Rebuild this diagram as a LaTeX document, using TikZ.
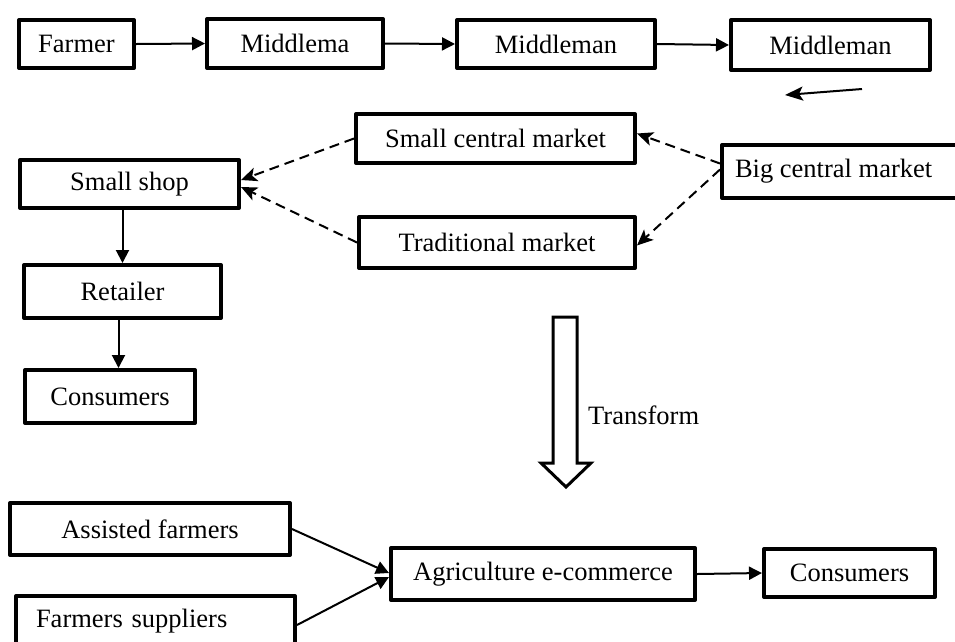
\documentclass[tikz,border=0pt]{standalone}
\usepackage{fontspec}
\setmainfont{Liberation Serif}
\usetikzlibrary{arrows.meta}
\begin{document}
\begin{tikzpicture}[x=1pt,y=-1pt,
  font=\fontsize{26.5}{30}\selectfont,
  box/.style={draw,line width=4pt,line join=round,inner sep=0pt},
  arr/.style={line width=2pt,-{Triangle[length=13pt,width=13pt]}},
  darr/.style={line width=2pt,dash pattern=on 10pt off 6pt,-{Stealth[length=16pt,width=14pt,inset=4pt]}},
  hollow/.style={draw,line width=3pt,line join=miter}]
\useasboundingbox (0,0) rectangle (955,641);
% top row
\node[box,minimum width=115pt,minimum height=48pt] (farmer) at (76.5,44) {Farmer};
\node[box,minimum width=176pt,minimum height=49pt] (mid1) at (295,43.5) {Middlema};
\node[box,minimum width=198pt,minimum height=48pt] (mid2) at (556,44) {Middleman};
\node[box,minimum width=199pt,minimum height=50pt] (mid3) at (830.5,45) {Middleman};
\draw[arr] (farmer.east) -- (mid1.west);
\draw[arr] (mid1.east) -- (mid2.west);
\draw[arr] (mid2.east) -- (mid3.west);
\coordinate (sa1) at (862,89);
\coordinate (sa2) at (785,95);
\draw[line width=2pt,-{Stealth[length=18pt,width=14pt,inset=4pt]}] (sa1) -- (sa2);
% markets
\node[box,minimum width=279pt,minimum height=49pt] (scm) at (495.5,138.5) {Small central market};
\node[box,minimum width=276pt,minimum height=51pt] (trad) at (497,242.5) {Traditional market};
\node[box,anchor=west,minimum height=53pt,inner xsep=13pt] (bcm) at (720,171.5) {Big central market\rule{30pt}{0pt}};
\node[box,minimum width=219pt,minimum height=48pt] (shop) at (129.5,184) {Small shop};
\node[box,minimum width=197pt,minimum height=53pt] (ret) at (122.5,291.5) {Retailer};
\node[box,minimum width=170pt,minimum height=53pt] (cons1) at (110,396.5) {Consumers};
\draw[darr] (scm.west) -- ([yshift=4pt]shop.east);
\draw[darr] (trad.west) -- ([yshift=-3pt]shop.east);
\draw[darr] ([yshift=8pt]bcm.west) -- ([yshift=5pt]scm.east);
\draw[darr] ([yshift=2pt]bcm.west) -- ([yshift=-3pt]trad.east);
\draw[arr] (ret.north |- shop.south) -- (ret.north);
\draw[arr] ([xshift=-4pt]ret.south) -- ([xshift=-4pt]ret.south |- cons1.north);
% transform arrow
\draw[hollow] (553,317) -- (577,317) -- (577,463) -- (591,463) -- (566,487) -- (541,463) -- (553,463) -- cycle;
\node[anchor=west,inner sep=0pt] (tr) at (588,415) {Transform};
% bottom
\node[box,minimum width=280pt,minimum height=52pt] (assist) at (150,529) {Assisted farmers};
\node[box,anchor=north west,text width=239pt,align=left,inner xsep=20pt,inner ysep=0pt,text height=31pt,text depth=40pt] (supp) at (14,594) {Farmers suppliers};
\node[box,minimum width=304pt,minimum height=52pt] (agri) at (543,574) {Agriculture e-commerce};
\node[box,minimum width=171pt,minimum height=48pt] (cons2) at (849.5,573) {Consumers};
\draw[arr] (assist.east) -- ([yshift=1pt]agri.west);
\draw[arr] ([yshift=-31pt]supp.north east) -- ([yshift=-3pt]agri.west);
\draw[arr] (agri.east) -- (cons2.west);
\end{tikzpicture}
\end{document}
